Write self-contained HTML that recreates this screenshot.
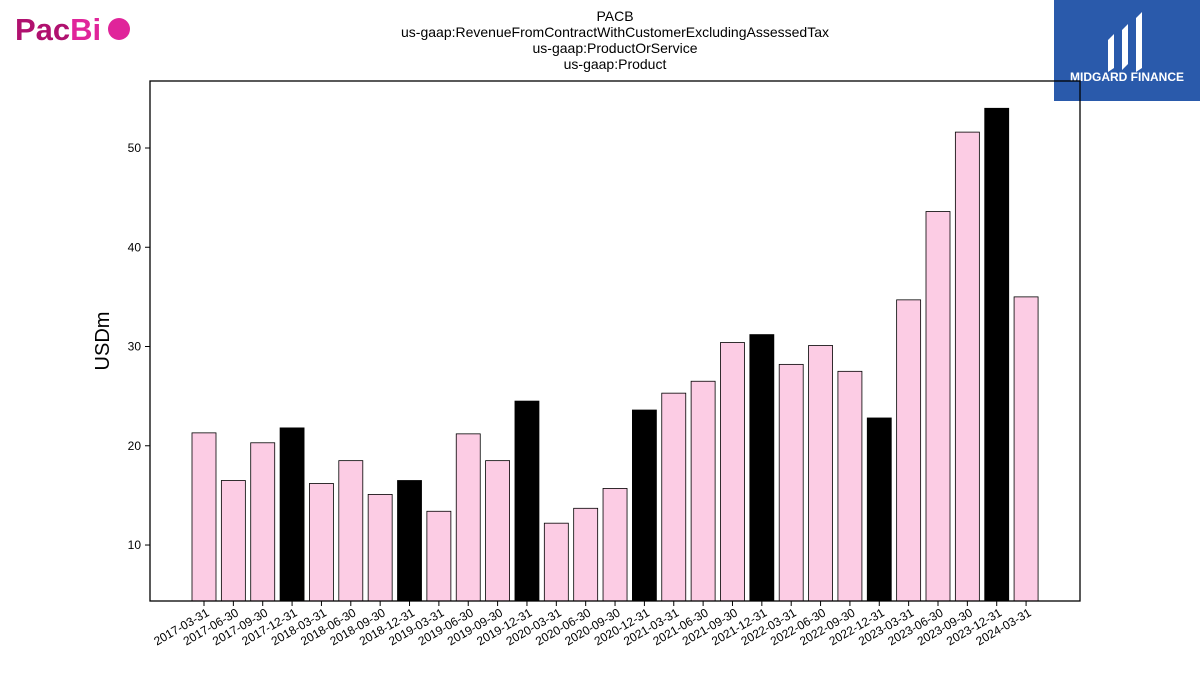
<!DOCTYPE html>
<html><head><meta charset="utf-8"><style>
body{margin:0;width:1200px;height:675px;background:#fff;font-family:"Liberation Sans",sans-serif;overflow:hidden}
</style></head><body>
<svg width="1200" height="675" viewBox="0 0 1200 675" id="svg">
<g>
<text x="15" y="40" font-size="31" font-weight="bold" fill="#b0116f" font-family="Liberation Sans,sans-serif">Pac<tspan fill="#e0249a">Bi</tspan></text>
<circle cx="119" cy="29" r="11" fill="#e0249a"/>
</g>
<g font-size="14" text-anchor="middle" fill="#000">
<text x="615" y="21">PACB</text>
<text x="615" y="37">us-gaap:RevenueFromContractWithCustomerExcludingAssessedTax</text>
<text x="615" y="53">us-gaap:ProductOrService</text>
<text x="615" y="69">us-gaap:Product</text>
</g>
<g>
<rect x="1054" y="0" width="146" height="101" fill="#2a5aab"/>
<path d="M1108 40 l6 -6 v34 l-6 4z M1122 30 l6 -6 v40 l-6 6z M1136 18 l6 -6 v56 l-6 4z" fill="#fff"/>
<text x="1127" y="81" font-size="12" font-weight="bold" fill="#fff" text-anchor="middle">MIDGARD FINANCE</text>
</g>
<text transform="translate(109,341) rotate(-90)" font-size="20" text-anchor="middle">USDm</text>
<g id="plot"></g>
<rect x="150" y="81" width="930" height="520" fill="none" stroke="#000" stroke-width="1.3"/>
</svg>
<script>
const categories=["2017-03-31","2017-06-30","2017-09-30","2017-12-31","2018-03-31","2018-06-30","2018-09-30","2018-12-31","2019-03-31","2019-06-30","2019-09-30","2019-12-31","2020-03-31","2020-06-30","2020-09-30","2020-12-31","2021-03-31","2021-06-30","2021-09-30","2021-12-31","2022-03-31","2022-06-30","2022-09-30","2022-12-31","2023-03-31","2023-06-30","2023-09-30","2023-12-31","2024-03-31"];
const values=[21.3,16.5,20.3,21.8,16.2,18.5,15.1,16.5,13.4,21.2,18.5,24.5,12.2,13.7,15.7,23.6,25.3,26.5,30.4,31.2,28.2,30.1,27.5,22.8,34.7,43.6,51.6,54.0,35.0];
const yTicks=[10,20,30,40,50];
const yMin=4.36,yMax=56.75;
const X0=150,X1=1080,Y0=601,Y1=81;
const y=v=>Y0-(v-yMin)/(yMax-yMin)*(Y0-Y1);
const step=29.36,first=204;
const x=i=>first+i*step;
const ns="http://www.w3.org/2000/svg";
const g=document.getElementById('plot');
function el(t,a){const e=document.createElementNS(ns,t);for(const k in a)e.setAttribute(k,a[k]);g.appendChild(e);return e;}
values.forEach((v,i)=>{
 const black=categories[i].endsWith("12-31");
 const r=el('rect',{x:x(i)-12,y:y(v),width:24,height:Y0-y(v),fill:black?'#000':'#fccce4',stroke:'#000','stroke-width':0.8});
 
 
 const t=el('line',{x1:x(i),x2:x(i),y1:Y0,y2:Y0+5,stroke:'#000'});
 
 
 const l=el('text',{x:x(i)+6,y:Y0+14,'font-size':12,'text-anchor':'end',transform:`rotate(-30 ${x(i)+6} ${Y0+14})`});
 l.textContent=categories[i];
 
 
});
yTicks.forEach(v=>{
 const t=el('line',{x1:X0-5,x2:X0,y1:y(v),y2:y(v),stroke:'#000'});
 
 
 const l=el('text',{x:X0-9,y:y(v)+4,'font-size':12,'text-anchor':'end'});
 l.textContent=v;
 
 
});
</script>
</body></html>
